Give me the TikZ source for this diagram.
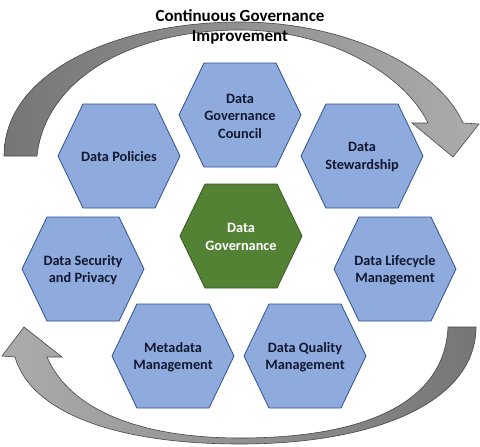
\documentclass[tikz,border=0pt]{standalone}
\usepackage{fontspec}
\setmainfont{Carlito}
\definecolor{hexblue}{RGB}{143,170,220}
\definecolor{hexborder}{RGB}{47,82,143}
\definecolor{hexgreenfill}{RGB}{84,130,53}
\definecolor{hexgreenborder}{RGB}{56,87,35}
\definecolor{hextext}{RGB}{18,24,48}
\definecolor{arrowdark}{RGB}{118,118,118}
\definecolor{arrowlight}{RGB}{172,172,172}
\definecolor{arrowline}{RGB}{70,70,70}
\newcommand\hexshape[3]{\path[#3] (#1,#2) +(-61,0) -- +(-36,-52) -- +(36,-52) -- +(61,0) -- +(36,52) -- +(-36,52) -- cycle;}
\tikzset{
  hexbox/.style={fill=hexblue, draw=hexborder, line width=0.8pt},
  hexgreen/.style={fill=hexgreenfill, draw=hexgreenborder, line width=0.8pt},
  hexlabel/.style={font=\bfseries\fontsize{14.3}{17.5}\selectfont, text=hextext, align=center, inner sep=0pt},
  greenlabel/.style={hexlabel, text=white},
  titlelabel/.style={font=\bfseries\fontsize{17}{20}\selectfont, text=black, align=center, inner sep=0pt},
  toparrow/.style={left color=arrowdark, right color=arrowlight, draw=arrowline, line width=0.6pt},
  botarrow/.style={left color=arrowlight, right color=arrowdark, draw=arrowline, line width=0.6pt},
}
\begin{document}
\begin{tikzpicture}[x=1pt,y=-1pt]
\useasboundingbox (0,0) rectangle (480,447);
% top curved arrow
\path[toparrow] (4,156) .. controls (4,70) and (120,22) .. (240,22)
  .. controls (350,22) and (440,70) .. (463,123)
  -- (479,124) -- (453,157) -- (412,123) -- (428,123)
  .. controls (405,75) and (330,30) .. (240,30)
  .. controls (130,30) and (45,80) .. (37,156) -- cycle;
% bottom curved arrow
\path[botarrow] (448,327) -- (476,327)
  .. controls (476,400) and (380,444) .. (240,444)
  .. controls (110,444) and (30,410) .. (15,357)
  -- (2,356) -- (24,327) -- (62,357) -- (47,357)
  .. controls (70,410) and (140,438) .. (240,438)
  .. controls (370,438) and (445,400) .. (448,327) -- cycle;
% title
\node[titlelabel] (title) at (240,27) {Continuous Governance\\Improvement};
% hexagons
\hexshape{240}{115}{hexbox}
\hexshape{119}{156}{hexbox}
\hexshape{362}{156}{hexbox}
\hexshape{241}{236}{hexgreen}
\hexshape{83}{269}{hexbox}
\hexshape{395}{269}{hexbox}
\hexshape{173}{356}{hexbox}
\hexshape{305}{356}{hexbox}
\node[hexlabel] (council) at (240,116) {Data\\Governance\\Council};
\node[hexlabel] (policies) at (119,157) {Data Policies};
\node[hexlabel] (stewardship) at (362,157) {Data\\Stewardship};
\node[greenlabel] (governance) at (241,237) {Data\\Governance};
\node[hexlabel] (security) at (83,270) {Data Security\\and Privacy};
\node[hexlabel] (lifecycle) at (395,270) {Data Lifecycle\\Management};
\node[hexlabel] (metadata) at (173,357) {Metadata\\Management};
\node[hexlabel] (quality) at (305,357) {Data Quality\\Management};
\end{tikzpicture}
\end{document}
